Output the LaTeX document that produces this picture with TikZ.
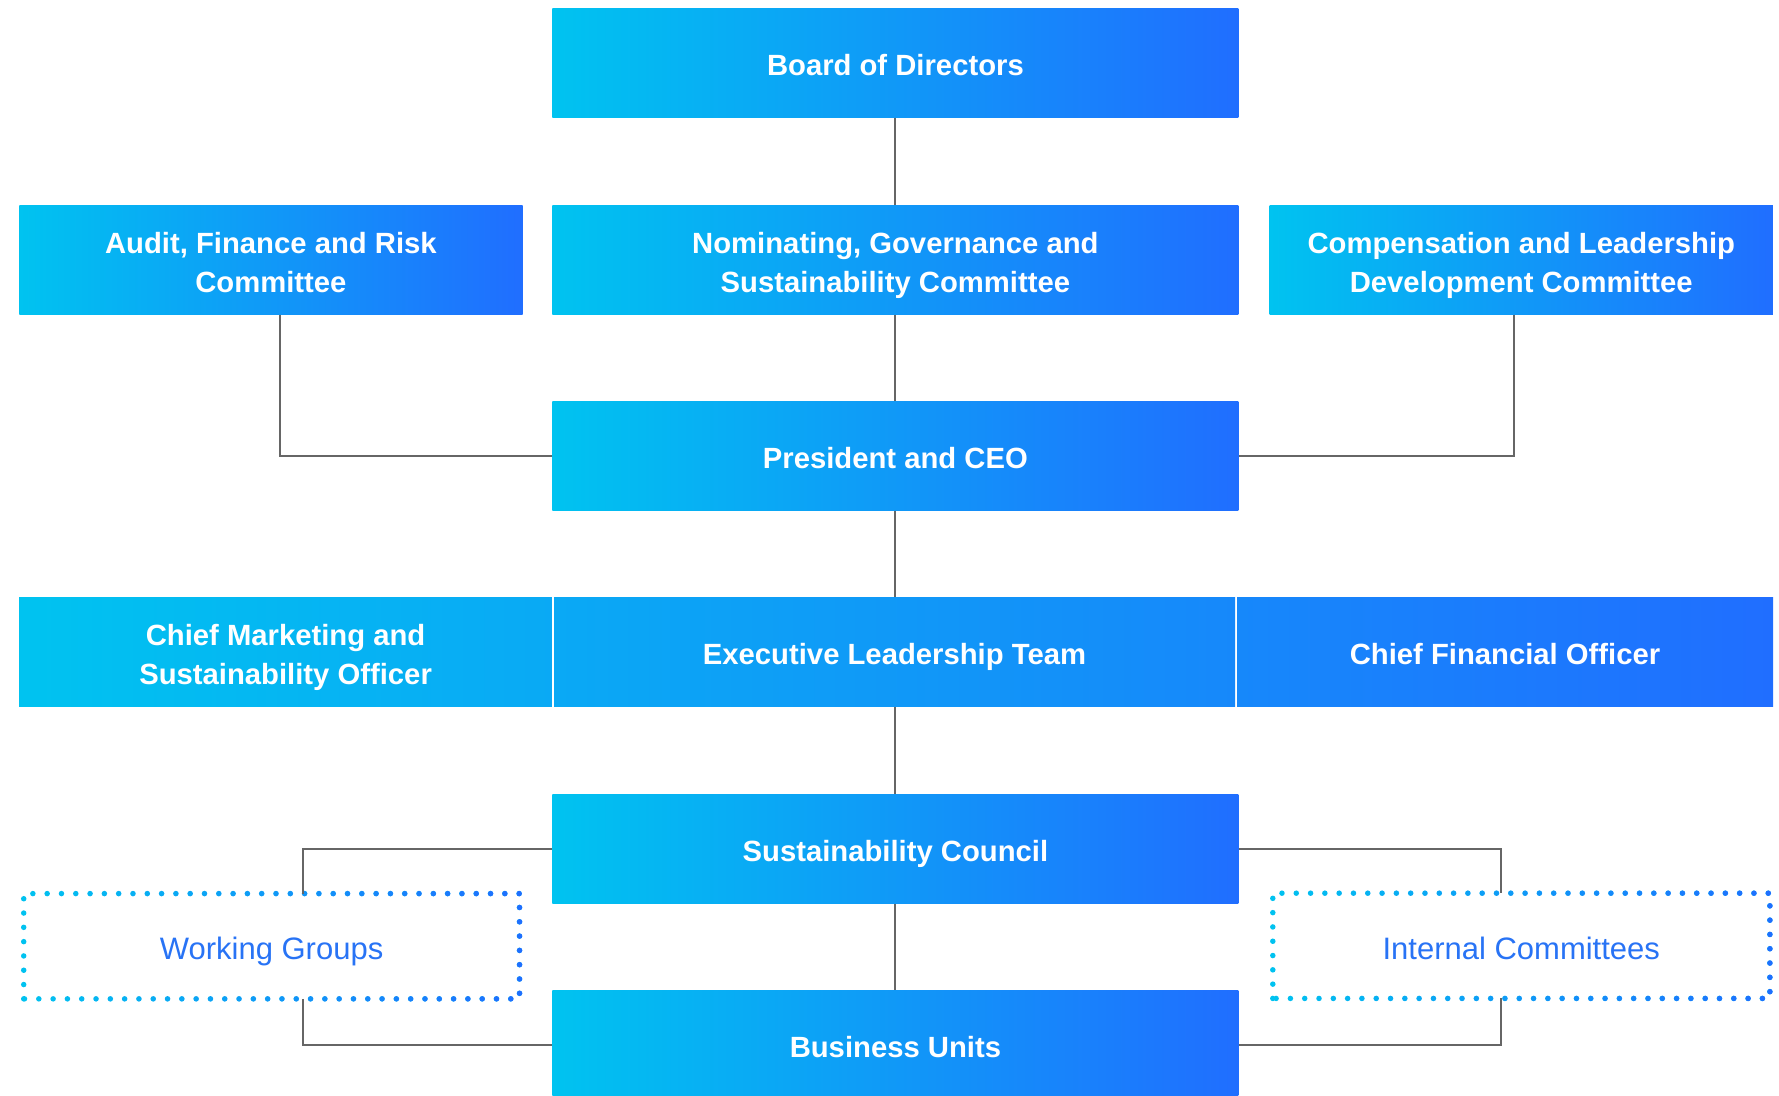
\documentclass[tikz,border=0pt]{standalone}
\usepackage{fontspec}
\setmainfont{Liberation Sans}
\usetikzlibrary{fadings}
\definecolor{gcyan}{RGB}{0,195,240}
\definecolor{gblue}{RGB}{32,110,255}
\definecolor{grouptext}{RGB}{40,115,245}
\definecolor{linkgrey}{RGB}{102,102,102}

\begin{document}
\begin{tikzpicture}[x=0.4pt,y=-0.4pt,
		unit/.style={inner sep=0pt, minimum height=43.6pt, text=white, align=center,
			text height=10.6pt, text depth=0pt,
			left color=gcyan, right color=gblue, font=\fontsize{11.7}{15.4}\selectfont\bfseries},
		twoline/.style={text height=26pt},
		wide/.style={unit, minimum width=274.4pt},
		side/.style={unit, minimum width=201.3pt},
		group/.style={inner sep=0pt, minimum height=41.7pt, text=grouptext,
			text height=10.6pt, text depth=0pt, font=\fontsize{12.4}{15}\selectfont},
		dots/.style={line width=2.2pt, dash pattern=on 0pt off 5.72pt, line cap=round},
		link/.style={draw=linkgrey, line width=0.8pt}]
			\useasboundingbox (0,0) rectangle (1779,1095);
			\node [wide] (board) at (895.4,62.5) {Board of Directors};
			\node [side, twoline] (audit) at (270.9,259.5) {Audit, Finance and Risk\\Committee};
			\node [wide, twoline] (nominating) at (895.4,259.5) {Nominating, Governance and\\Sustainability Committee};
			\node [side, twoline] (compensation) at (1521.3,259.5) {Compensation and Leadership\\Development Committee};
			\node [wide] (ceo) at (895.4,455.5) {President and CEO};
			\node [unit, twoline, minimum width=213.1pt, left color=gcyan, right color=gblue!30.4!gcyan] (cmso) at (285.6,651.5) {Chief Marketing and\\Sustainability Officer};
			\node [unit, minimum width=272.4pt, left color=gblue!30.5!gcyan, right color=gblue!69.3!gcyan] (elt) at (894.5,651.5) {Executive Leadership Team};
			\node [unit, minimum width=214.4pt, left color=gblue!69.4!gcyan, right color=gblue] (cfo) at (1505,651.5) {Chief Financial Officer};
			\node [wide] (council) at (895.4,848.5) {Sustainability Council};
			\node [wide] (units) at (895.4,1044.5) {Business Units};
			\node [group, minimum width=197.9pt] (working) at (271.6,946.2) {Working Groups};
			\node [group, minimum width=198.4pt] (internal) at (1521.3,945.8) {Internal Committees};
			\draw [dots, gcyan] (working.south west) rectangle (working.north east);
			\draw [dots, gblue, path fading=west] (working.south west) rectangle (working.north east);
			\draw [dots, gcyan] (internal.south west) rectangle (internal.north east);
			\draw [dots, gblue, path fading=west] (internal.south west) rectangle (internal.north east);
			\draw [link] (board) -- (nominating);
			\draw [link] (nominating) -- (ceo);
			\draw [link] (ceo.south) -- (ceo.south |- elt.north);
			\draw [link] (elt.south -| council.north) -- (council.north);
			\draw [link] (council) -- (units);
			\draw [link] ([xshift=3.6pt]audit.south) |- (ceo.west);
			\draw [link] ([xshift=-3pt]compensation.south) |- (ceo.east);
			\draw [link] (council.west) -| ([xshift=12.5pt]working.north);
			\draw [link] ([xshift=12.5pt]working.south) |- (units.west);
			\draw [link] (council.east) -| ([xshift=-8pt]internal.north);
			\draw [link] ([xshift=-8pt]internal.south) |- (units.east);
		\end{tikzpicture}
\end{document}
